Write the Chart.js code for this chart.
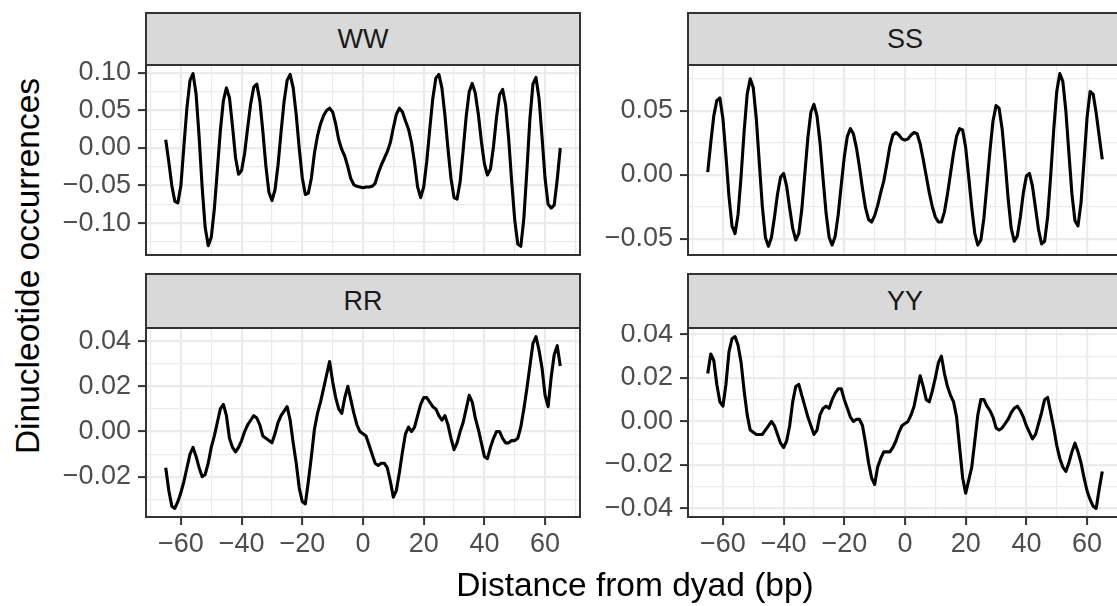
<!DOCTYPE html>
<html><head><meta charset="utf-8">
<script src="https://cdn.jsdelivr.net/npm/chart.js@4.4.1/dist/chart.umd.min.js"></script>
<style>
html,body{margin:0;padding:0;background:#fff;width:1117px;height:606px;overflow:hidden;}
body{position:relative;font-family:"Liberation Sans",Arial,sans-serif;}
canvas{position:absolute;}
.strip{position:absolute;box-sizing:border-box;background:#D9D9D9;border:2px solid #333333;color:#1A1A1A;font-size:27px;display:flex;align-items:center;justify-content:center;}
.title{position:absolute;color:#000;font-size:33.5px;line-height:34px;white-space:nowrap;}
</style></head><body>
<script>
// ---- data (distance from dyad, bp) ----
const positions = Array.from({length: 131}, (_, i) => i - 65);
const xTicks = [-60, -40, -20, 0, 20, 40, 60];

const wwValues = [
 0.011,-0.018,-0.050,-0.071,-0.073,-0.050, 0.003, 0.054, 0.090, 0.099,
 0.072, 0.015,-0.052,-0.106,-0.130,-0.119,-0.082,-0.030, 0.023, 0.063,
 0.080, 0.067, 0.029,-0.013,-0.035,-0.030,-0.007, 0.027, 0.059, 0.081,
 0.085, 0.063, 0.022,-0.024,-0.059,-0.070,-0.056,-0.023, 0.021, 0.062,
 0.090, 0.098, 0.080, 0.044,-0.001,-0.040,-0.062,-0.060,-0.040,-0.007,
 0.016, 0.032, 0.043, 0.050, 0.053, 0.048, 0.032, 0.011,-0.002,-0.011,
-0.025,-0.041,-0.049,-0.051,-0.052,-0.053,-0.052,-0.052,-0.051,-0.047,
-0.034,-0.023,-0.014,-0.005, 0.007, 0.027, 0.045, 0.053, 0.048, 0.036,
 0.025, 0.007,-0.020,-0.052,-0.066,-0.052,-0.018, 0.025, 0.066, 0.093,
 0.098, 0.080, 0.043,-0.001,-0.041,-0.066,-0.068,-0.045,-0.003, 0.042,
 0.075, 0.086, 0.073, 0.045, 0.009,-0.021,-0.036,-0.028, 0.002, 0.041,
 0.071, 0.078, 0.057, 0.012,-0.045,-0.096,-0.128,-0.131,-0.094,-0.030,
 0.039, 0.085, 0.094, 0.066, 0.014,-0.041,-0.075,-0.080,-0.076,-0.042,
 0.000];
const wwTicks = [-0.10, -0.05, 0.00, 0.05, 0.10];

const ssValues = [
 0.002, 0.025, 0.046, 0.058, 0.060, 0.044, 0.015,-0.017,-0.040,-0.046,
-0.031,-0.001, 0.034, 0.063, 0.075, 0.068, 0.044, 0.009,-0.025,-0.049,
-0.056,-0.049,-0.033,-0.015,-0.002, 0.001,-0.009,-0.026,-0.042,-0.051,
-0.046,-0.027, 0.001, 0.029, 0.049, 0.055, 0.046, 0.025,-0.003,-0.030,
-0.049,-0.055,-0.048,-0.031,-0.008, 0.014, 0.030, 0.036, 0.032, 0.021,
 0.006,-0.011,-0.026,-0.035,-0.037,-0.032,-0.024,-0.014,-0.005, 0.008,
 0.022, 0.031, 0.033, 0.031, 0.028, 0.027, 0.028, 0.031, 0.033, 0.032,
 0.024, 0.012,-0.001,-0.014,-0.025,-0.033,-0.037,-0.037,-0.029,-0.015,
 0.001, 0.017, 0.030, 0.036, 0.035, 0.021,-0.002,-0.026,-0.046,-0.055,
-0.051,-0.034,-0.008, 0.019, 0.042, 0.054, 0.052, 0.036, 0.010,-0.019,
-0.042,-0.052,-0.048,-0.033,-0.014,-0.001, 0.001,-0.009,-0.026,-0.043,
-0.054,-0.052,-0.033,-0.001, 0.035, 0.065, 0.079, 0.073, 0.050, 0.017,
-0.015,-0.036,-0.040,-0.022, 0.011, 0.045, 0.065, 0.063, 0.048, 0.030,
 0.012];
const ssTicks = [-0.05, 0.00, 0.05];

const rrValues = [
-0.016,-0.026,-0.033,-0.034,-0.031,-0.027,-0.022,-0.016,-0.010,-0.007,
-0.011,-0.016,-0.020,-0.019,-0.014,-0.007,-0.002, 0.004, 0.010, 0.012,
 0.007,-0.003,-0.007,-0.009,-0.007,-0.004, 0.000, 0.003, 0.005, 0.007,
 0.006, 0.003,-0.002,-0.003,-0.004,-0.005,-0.001, 0.004, 0.007, 0.009,
 0.011, 0.005,-0.005,-0.014,-0.025,-0.031,-0.032,-0.022,-0.011, 0.001,
 0.008, 0.013, 0.019, 0.025, 0.031, 0.022, 0.015, 0.010, 0.008, 0.015,
 0.020, 0.014, 0.008, 0.003, 0.000,-0.001,-0.002,-0.006,-0.010,-0.014,
-0.015,-0.014,-0.014,-0.016,-0.022,-0.029,-0.026,-0.018,-0.009,-0.001,
 0.002, 0.000, 0.002, 0.007, 0.012, 0.015, 0.015, 0.013, 0.011, 0.010,
 0.007, 0.005, 0.007, 0.003,-0.003,-0.008,-0.005, 0.000, 0.004, 0.010,
 0.016, 0.013, 0.006, 0.001,-0.005,-0.011,-0.012,-0.007,-0.003, 0.000,
 0.000,-0.003,-0.005,-0.005,-0.004,-0.004,-0.003, 0.002, 0.010, 0.019,
 0.029, 0.039, 0.042, 0.036, 0.028, 0.016, 0.011, 0.024, 0.034, 0.038,
 0.029];
const rrTicks = [-0.02, 0.00, 0.02, 0.04];

const yyValues = [
 0.022, 0.031, 0.028, 0.017, 0.009, 0.007, 0.017, 0.032, 0.038, 0.039,
 0.035, 0.027, 0.014, 0.003,-0.004,-0.005,-0.006,-0.006,-0.006,-0.004,
-0.002, 0.000,-0.002,-0.006,-0.010,-0.012,-0.009,-0.002, 0.009, 0.016,
 0.017, 0.012, 0.007, 0.002,-0.002,-0.006,-0.004, 0.003, 0.006, 0.007,
 0.006, 0.010, 0.013, 0.015, 0.015, 0.010, 0.006, 0.002, 0.000, 0.001,
 0.001,-0.002,-0.010,-0.019,-0.026,-0.029,-0.021,-0.017,-0.014,-0.014,
-0.014,-0.012,-0.009,-0.005,-0.002,-0.001, 0.000, 0.003, 0.007, 0.014,
 0.021, 0.016, 0.010, 0.009, 0.014, 0.020, 0.027, 0.030, 0.022, 0.016,
 0.012, 0.009, 0.002,-0.012,-0.026,-0.033,-0.027,-0.021,-0.009, 0.003,
 0.010, 0.010, 0.007, 0.005, 0.002,-0.003,-0.004,-0.003,-0.001, 0.001,
 0.004, 0.006, 0.007, 0.005, 0.002,-0.002,-0.005,-0.008,-0.006,-0.001,
 0.004, 0.010, 0.011, 0.004,-0.003,-0.011,-0.017,-0.021,-0.023,-0.019,
-0.014,-0.010,-0.014,-0.019,-0.026,-0.032,-0.036,-0.039,-0.040,-0.031,
-0.023];
const yyTicks = [-0.04, -0.02, 0.00, 0.02, 0.04];

const facetNames = ['WW', 'SS', 'RR', 'YY'];
const xTitle = 'Distance from dyad (bp)';
const yTitle = 'Dinucleotide occurrences';

// ---- layout ----
const FONT = '"Liberation Sans", Arial, sans-serif';
const PLOT_W = 434, Y_AXIS_W = 84, PAD = 4, X_AXIS_H = 52;
const panels = [
  {name: facetNames[0], values: wwValues, ticks: wwTicks, left: 146, top: 65,  height: 190, stripTop: 12,  showX: false},
  {name: facetNames[1], values: ssValues, ticks: ssTicks, left: 688, top: 65,  height: 190, stripTop: 12,  showX: false},
  {name: facetNames[2], values: rrValues, ticks: rrTicks, left: 146, top: 328, height: 189, stripTop: 273, showX: true},
  {name: facetNames[3], values: yyValues, ticks: yyTicks, left: 688, top: 328, height: 189, stripTop: 273, showX: true}
];

function expandRange(arr) {
  const mn = Math.min(...arr), mx = Math.max(...arr), r = mx - mn;
  return [mn - 0.05 * r, mx + 0.05 * r];
}
function buildTicks(major, lo, hi) {
  const step = major[1] - major[0];
  const out = major.map(v => ({value: v, minor: false}));
  for (let i = -1; i < major.length; i++) {
    const m = i < 0 ? major[0] - step / 2 : major[i] + step / 2;
    out.push({value: m, minor: true});
  }
  return out.filter(t => t.value >= lo && t.value <= hi).sort((a, b) => a.value - b.value);
}
const fmtY = v => (v < -1e-9 ? '\u2212' : '') + Math.abs(v).toFixed(2);
const fmtX = v => { const r = Math.round(v); return r < 0 ? '\u2212' + Math.abs(r) : String(r); };

const [xLo, xHi] = expandRange(positions);
const xTickObjs = buildTicks(xTicks, xLo, xHi);

const borderPlugin = {
  id: 'panelBorder',
  afterDraw(chart) {
    const a = chart.chartArea, ctx = chart.ctx;
    ctx.save();
    ctx.strokeStyle = '#333333';
    ctx.lineWidth = 2;
    ctx.strokeRect(a.left, a.top, a.right - a.left, a.bottom - a.top);
    ctx.restore();
  }
};

function zeroPad(s) {
  s.paddingTop = 0; s.paddingBottom = 0; s.paddingLeft = 0; s.paddingRight = 0;
}

panels.forEach(p => {
  const strip = document.createElement('div');
  strip.className = 'strip';
  strip.textContent = p.name;
  strip.style.left = (p.left - 1) + 'px';
  strip.style.top = p.stripTop + 'px';
  strip.style.width = (PLOT_W + 2) + 'px';
  strip.style.height = (p.top + 1 - p.stripTop) + 'px';
  document.body.appendChild(strip);

  const xh = p.showX ? X_AXIS_H : PAD;
  const cv = document.createElement('canvas');
  cv.width = Y_AXIS_W + PLOT_W + PAD;
  cv.height = PAD + p.height + xh;
  cv.style.left = (p.left - Y_AXIS_W) + 'px';
  cv.style.top = (p.top - PAD) + 'px';
  document.body.appendChild(cv);

  const [yLo, yHi] = expandRange(p.values);
  const yTickObjs = buildTicks(p.ticks, yLo, yHi);

  const gridW = c => (c.tick && c.tick.minor ? 1.2 : 2.2);
  const tickC = c => (c.tick && c.tick.minor ? 'rgba(0,0,0,0)' : '#333333');

  new Chart(cv, {
    type: 'line',
    data: {
      datasets: [{
        data: positions.map((x, i) => ({x: x, y: p.values[i]})),
        borderColor: '#000000', borderWidth: 3.1, pointRadius: 0, tension: 0,
        fill: false, borderJoinStyle: 'round'
      }]
    },
    options: {
      responsive: false, animation: false, devicePixelRatio: 1,
      layout: {autoPadding: false, padding: {top: PAD, right: PAD, left: 0, bottom: 0}},
      plugins: {legend: {display: false}, tooltip: {enabled: false}},
      scales: {
        x: {
          type: 'linear', min: xLo, max: xHi,
          afterBuildTicks: s => { s.ticks = xTickObjs.map(t => ({value: t.value, minor: t.minor})); },
          afterFit: s => { s.height = xh; zeroPad(s); },
          border: {display: false},
          grid: {color: '#EBEBEB', lineWidth: gridW, drawTicks: p.showX, tickLength: 8, tickColor: tickC, tickWidth: 2},
          ticks: {display: p.showX, autoSkip: false, maxRotation: 0, minRotation: 0, padding: 3,
                  color: '#4D4D4D', font: {family: FONT, size: 27},
                  callback: (v, i, ts) => (ts[i] && ts[i].minor ? '' : fmtX(v))}
        },
        y: {
          type: 'linear', min: yLo, max: yHi,
          afterBuildTicks: s => { s.ticks = yTickObjs.map(t => ({value: t.value, minor: t.minor})); },
          afterFit: s => { s.width = Y_AXIS_W; zeroPad(s); },
          border: {display: false},
          grid: {color: '#EBEBEB', lineWidth: gridW, drawTicks: true, tickLength: 8, tickColor: tickC, tickWidth: 2},
          ticks: {autoSkip: false, padding: 7, color: '#4D4D4D', font: {family: FONT, size: 27},
                  callback: (v, i, ts) => (ts[i] && ts[i].minor ? '' : fmtY(v))}
        }
      }
    },
    plugins: [borderPlugin]
  });
});

const xt = document.createElement('div');
xt.className = 'title';
xt.textContent = xTitle;
xt.style.left = '635px'; xt.style.top = '568px'; xt.style.transform = 'translateX(-50%)';
document.body.appendChild(xt);

const yt = document.createElement('div');
yt.className = 'title';
yt.textContent = yTitle;
yt.style.left = '28px'; yt.style.top = '266px';
yt.style.transform = 'translate(-50%,-50%) rotate(-90deg)';
document.body.appendChild(yt);
</script>
</body></html>
